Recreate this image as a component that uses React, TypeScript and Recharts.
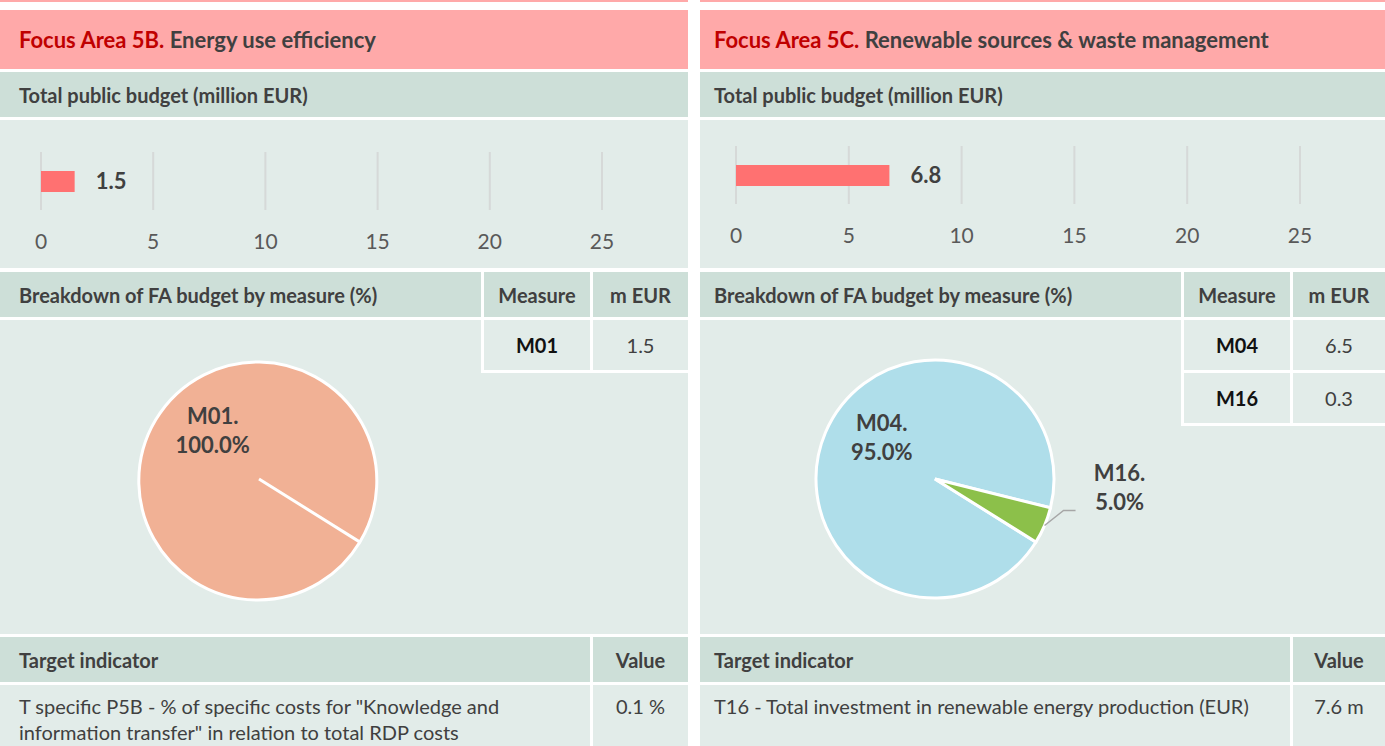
import React from 'react';
import { BarChart, Bar, XAxis, YAxis, CartesianGrid, LabelList, PieChart, Pie, Cell } from 'recharts';

// ---------- data ----------
const budgetTicks = [0, 5, 10, 15, 20, 25];
const budget5B = [{ name: 'FA 5B', value: 1.5 }];
const budget5C = [{ name: 'FA 5C', value: 6.8 }];

const measures5B = ['M01'];
const amounts5B = [1.5];
const shares5B = [100.0];
const colors5B = ['#F1B195'];

const measures5C = ['M04', 'M16'];
const amounts5C = [6.5, 0.3];
const shares5C = [95.0, 5.0];
const colors5C = ['#AFDEEA', '#8CC04A'];

const pie5B = measures5B.map((m, i) => ({ name: m, value: shares5B[i] }));
const pie5C = measures5C.map((m, i) => ({ name: m, value: shares5C[i] }));

// ---------- style ----------
const FONT = 'Lato, "Open Sans", sans-serif';
const PINK = '#FFA9A9';
const GREEN = '#CDDFD8';
const LIGHT = '#E2ECE9';
const TXT = '#404040';
const RED = '#C00000';
const BAR = '#FF7171';
const FS = 20;

type BoxProps = {
  x: number; y: number; w: number; h: number; bg?: string;
  children?: React.ReactNode; align?: 'left' | 'center'; pl?: number;
  bold?: boolean; size?: number; color?: string; valign?: 'center' | 'top'; pt?: number; lh?: number;
};

const Box = ({ x, y, w, h, bg, children, align = 'left', pl = 19, bold = false, size = FS, color = TXT, valign = 'center', pt = 0, lh }: BoxProps) => (
  <div
    style={{
      position: 'absolute', left: x, top: y, width: w, height: h, background: bg,
      display: 'flex', alignItems: valign === 'center' ? 'center' : 'flex-start',
      justifyContent: align === 'center' ? 'center' : 'flex-start',
      paddingLeft: align === 'left' ? pl : 0, paddingTop: pt, boxSizing: 'border-box',
      fontFamily: FONT, fontWeight: bold ? 700 : 400, fontSize: size, color,
      lineHeight: lh ? `${lh}px` : 'normal', whiteSpace: 'pre-wrap',
    }}
  >
    {children}
  </div>
);

const RAD = Math.PI / 180;

const renderPieLabel = (props: any) => {
  const { cx, cy, midAngle, outerRadius, payload, percent } = props;
  const name = `${payload.name}.`;
  const pct = `${Number(payload.value).toFixed(1)}%`;
  const common = { fontFamily: FONT, fontWeight: 700, fontSize: 22, fill: TXT, textAnchor: 'middle' as const };
  if (percent > 0.5) {
    const a = (midAngle - 14) * RAD;
    const r = outerRadius * 0.56;
    const x = cx + r * Math.cos(a);
    const y = cy - r * Math.sin(a);
    return (
      <g>
        <text {...common} x={x} y={y - 16} dominantBaseline="central">{name}</text>
        <text {...common} x={x} y={y + 13} dominantBaseline="central">{pct}</text>
      </g>
    );
  }
  const a = midAngle * RAD;
  const x0 = cx + outerRadius * Math.cos(a);
  const y0 = cy - outerRadius * Math.sin(a);
  const x1 = x0 + 19;
  const y1 = y0 - 15;
  const x2 = x1 + 12;
  const tx = x2 + 44;
  return (
    <g>
      <polyline points={`${x0},${y0} ${x1},${y1} ${x2},${y1}`} fill="none" stroke="#A6A6A6" strokeWidth={1.5} />
      <text {...common} x={tx} y={y1 - 38} dominantBaseline="central">{name}</text>
      <text {...common} x={tx} y={y1 - 9} dominantBaseline="central">{pct}</text>
    </g>
  );
};

const BudgetBar = ({ data, left, top, ml, mr, mt, mb, width }: any) => (
  <div style={{ position: 'absolute', left, top }}>
    <BarChart
      width={width}
      height={148}
      data={data}
      layout="vertical"
      margin={{ top: mt, right: mr, bottom: 0, left: ml }}
    >
      <CartesianGrid horizontal={false} vertical stroke="#D6D9D8" strokeWidth={2} />
      <XAxis
        type="number"
        domain={[0, 25]}
        ticks={budgetTicks}
        axisLine={false}
        tickLine={false}
        tickSize={0}
        tickMargin={24}
        height={mb}
        tick={{ fill: '#595959', fontSize: 21, fontFamily: FONT }}
      />
      <YAxis type="category" dataKey="name" hide />
      <Bar dataKey="value" fill={BAR} barSize={21} isAnimationActive={false}>
        <LabelList
          dataKey="value"
          position="right"
          offset={21}
          formatter={(v: any) => Number(v).toFixed(1)}
          style={{ fill: TXT, fontWeight: 700, fontSize: 22, fontFamily: FONT }}
        />
      </Bar>
    </BarChart>
  </div>
);

const Panel = ({ x, w, pl, code, title, bar, pie, colors, measures, amounts, startAngle, cx, targetValue, targetLines }: any) => {
  const c1 = 481; // first column width
  const c2 = 106;
  const colX2 = x + c1 + 3;
  const colX3 = colX2 + c2 + 3;
  const c3 = x + w - colX3;
  const rowH = 50;
  return (
    <>
      <div style={{ position: 'absolute', left: x, top: 0, width: w, height: 2, background: PINK }} />
      <Box x={x} y={10} w={w} h={59} bg={PINK} bold size={22} pl={pl}>
        <span style={{ color: RED }}>{code}</span>
        <span>&nbsp;{title}</span>
      </Box>
      <Box x={x} y={72} w={w} h={45} bg={GREEN} bold pl={pl}>Total public budget (million EUR)</Box>
      <div style={{ position: 'absolute', left: x, top: 120, width: w, height: 148, background: LIGHT }} />
      {bar}
      <Box x={x} y={272} w={c1} h={45} bg={GREEN} bold pl={pl}>Breakdown of FA budget by measure (%)</Box>
      <Box x={colX2} y={272} w={c2} h={45} bg={GREEN} bold align="center">Measure</Box>
      <Box x={colX3} y={272} w={c3} h={45} bg={GREEN} bold align="center">m EUR</Box>
      <div style={{ position: 'absolute', left: x, top: 320, width: w, height: 314, background: LIGHT }} />
      <div style={{ position: 'absolute', left: x, top: 320 }}>
        <PieChart width={w} height={314} margin={{ top: 0, right: 0, bottom: 0, left: 0 }}>
          <Pie
            data={pie}
            dataKey="value"
            nameKey="name"
            cx={cx}
            cy={159}
            outerRadius={119}
            startAngle={startAngle}
            endAngle={startAngle + 360}
            stroke="#FFFFFF"
            strokeWidth={3}
            labelLine={false}
            label={renderPieLabel}
            isAnimationActive={false}
          >
            {pie.map((_: any, i: number) => (
              <Cell key={i} fill={colors[i]} />
            ))}
          </Pie>
        </PieChart>
      </div>
      {measures.map((m: string, i: number) => (
        <React.Fragment key={m}>
          <div style={{ position: 'absolute', left: colX2 - 3, top: 320 + i * (rowH + 3), width: 3, height: rowH + 3, background: '#FFFFFF' }} />
          <div style={{ position: 'absolute', left: colX3 - 3, top: 320 + i * (rowH + 3), width: 3, height: rowH + 3, background: '#FFFFFF' }} />
          <Box x={colX2} y={320 + i * (rowH + 3)} w={c2} h={rowH} bg={LIGHT} bold color="#111111" align="center">{m}</Box>
          <Box x={colX3} y={320 + i * (rowH + 3)} w={c3} h={rowH} bg={LIGHT} align="center">{amounts[i].toFixed(1)}</Box>
          <div style={{ position: 'absolute', left: colX2 - 3, top: 320 + i * (rowH + 3) + rowH, width: x + w - colX2 + 3, height: 3, background: '#FFFFFF' }} />
        </React.Fragment>
      ))}
      <Box x={x} y={637} w={c1 + c2 + 3} h={45} bg={GREEN} bold pl={pl}>Target indicator</Box>
      <Box x={colX3} y={637} w={c3} h={45} bg={GREEN} bold align="center">Value</Box>
      <Box x={x} y={685} w={c1 + c2 + 3} h={61} bg={LIGHT} valign="top" pt={8} lh={26} pl={pl}>
        <div>{targetLines.map((t: string, i: number) => <div key={i}>{t}</div>)}</div>
      </Box>
      <Box x={colX3} y={685} w={c3} h={61} bg={LIGHT} align="center" valign="top" pt={8} lh={26}>{targetValue}</Box>
    </>
  );
};

export default function App() {
  return (
    <div style={{ position: 'absolute', left: 0, top: 0, width: 1385, height: 746, background: '#FFFFFF', overflow: 'hidden' }}>
      <Panel
        x={0}
        w={688}
        pl={19}
        code="Focus Area 5B."
        title="Energy use efficiency"
        bar={<BudgetBar data={budget5B} left={0} top={120} width={688} ml={41} mr={86} mt={32} mb={58} />}
        pie={pie5B}
        colors={colors5B}
        measures={measures5B}
        amounts={amounts5B}
        startAngle={-32}
        cx={259}
        targetLines={['T specific P5B - % of specific costs for "Knowledge and', 'information transfer" in relation to total RDP costs']}
        targetValue="0.1 %"
      />
      <Panel
        x={700}
        w={685}
        pl={14}
        code="Focus Area 5C."
        title="Renewable sources & waste management"
        bar={<BudgetBar data={budget5C} left={700} top={120} width={685} ml={36} mr={85} mt={26} mb={64} />}
        pie={pie5C}
        colors={colors5C}
        measures={measures5C}
        amounts={amounts5C}
        startAngle={-14}
        cx={235}
        targetLines={['T16 - Total investment in renewable energy production (EUR)']}
        targetValue="7.6 m"
      />
    </div>
  );
}
